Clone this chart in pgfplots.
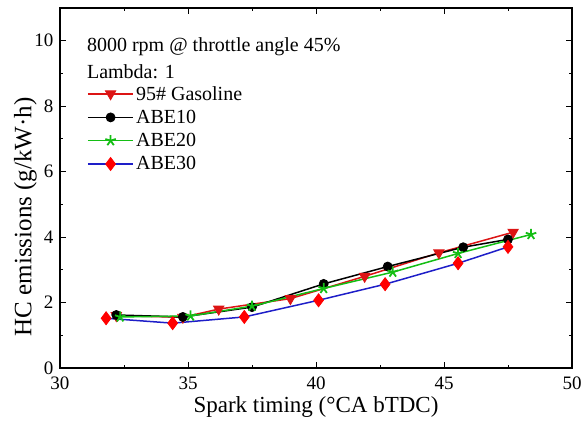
\documentclass[border=0pt]{standalone}
\usepackage{fontspec}
\setmainfont{Liberation Serif}
\usepackage{pgfplots}
\pgfplotsset{compat=1.18}
\definecolor{cred}{RGB}{220,20,20}
\definecolor{cgreen}{RGB}{20,190,20}
\definecolor{cblue}{RGB}{30,30,200}
\begin{document}
\begin{tikzpicture}
\begin{axis}[
  name=ax,
  scale only axis, width=512pt, height=360pt,
  xmin=30, xmax=50, ymin=0, ymax=11,
  xtick={30,35,...,50}, ytick={0,2,...,10},
  minor x tick num=1, minor y tick num=1,
  tick align=inside, major tick length=6pt, minor tick length=3pt,
  axis line style={line width=1.2pt}, every tick/.style={line width=1pt,black},
  /pgf/number format/assume math mode=true,
  ticklabel style={font=\fontsize{19}{21}\selectfont},
  xticklabel style={yshift=-5pt},
  yticklabel style={xshift=-3pt},
  xlabel={Spark timing (°CA bTDC)},
  ylabel={HC emissions (g/kW·h)},
  xlabel style={font=\fontsize{23}{25}\selectfont, yshift=0pt},
  ylabel style={font=\fontsize{25}{27}\selectfont, at={(rel axis cs:0,0.42)}, anchor=south, inner sep=0pt, yshift=23pt},
  legend style={at={(axis cs:31.05,8.68)}, anchor=north west, draw=none, fill=none,
    font=\fontsize{20}{22}\selectfont, row sep=4.5pt, inner sep=0pt},
  legend cell align=left,
  legend image code/.code={\draw[mark repeat=2,mark phase=2] plot coordinates {(0cm,0cm)(0.8cm,0cm)(1.6cm,0cm)};},
  every axis plot/.append style={line width=1.5pt},
]
\addplot[cred, mark=triangle*, mark options={rotate=180, fill=cred, line width=0.8pt}, mark size=6pt] coordinates {
(32.2,1.6)(34.8,1.55)(36.2,1.8)(39.0,2.12)(41.9,2.8)(44.8,3.52)(47.7,4.15)};
\addlegendentry{95\# Gasoline}
\addplot[black, mark=*, mark options={fill=black, line width=0.8pt}, mark size=4.5pt] coordinates {
(32.2,1.62)(34.8,1.56)(37.5,1.86)(40.3,2.57)(42.8,3.1)(45.75,3.69)(47.5,3.93)};
\addlegendentry{ABE10}
\addplot[cgreen, mark=star, mark options={fill=cgreen, line width=1.8pt}, mark size=5.5pt] coordinates {
(32.35,1.56)(35.1,1.59)(37.5,1.89)(40.3,2.43)(43.0,2.93)(45.55,3.5)(48.4,4.08)};
\addlegendentry{ABE20}
\addplot[cblue, mark=diamond*, mark options={fill=red, draw=red, line width=0.8pt}, mark size=6.5pt] coordinates {
(31.8,1.52)(34.4,1.37)(37.2,1.56)(40.1,2.07)(42.7,2.56)(45.55,3.2)(47.5,3.7)};
\addlegendentry{ABE30}
\node[anchor=west, font=\fontsize{20}{22}\selectfont, inner sep=0pt] at (axis cs:31.05,9.82) {8000 rpm @ throttle angle 45\%};
\node[anchor=west, font=\fontsize{20}{22}\selectfont, inner sep=0pt] at (axis cs:31.05,9.06) {Lambda: 1};
\end{axis}
\pgfresetboundingbox
\path ([shift={(-60pt,-57pt)}]ax.south west) rectangle ([shift={(11pt,8pt)}]ax.north east);
\end{tikzpicture}
\end{document}
